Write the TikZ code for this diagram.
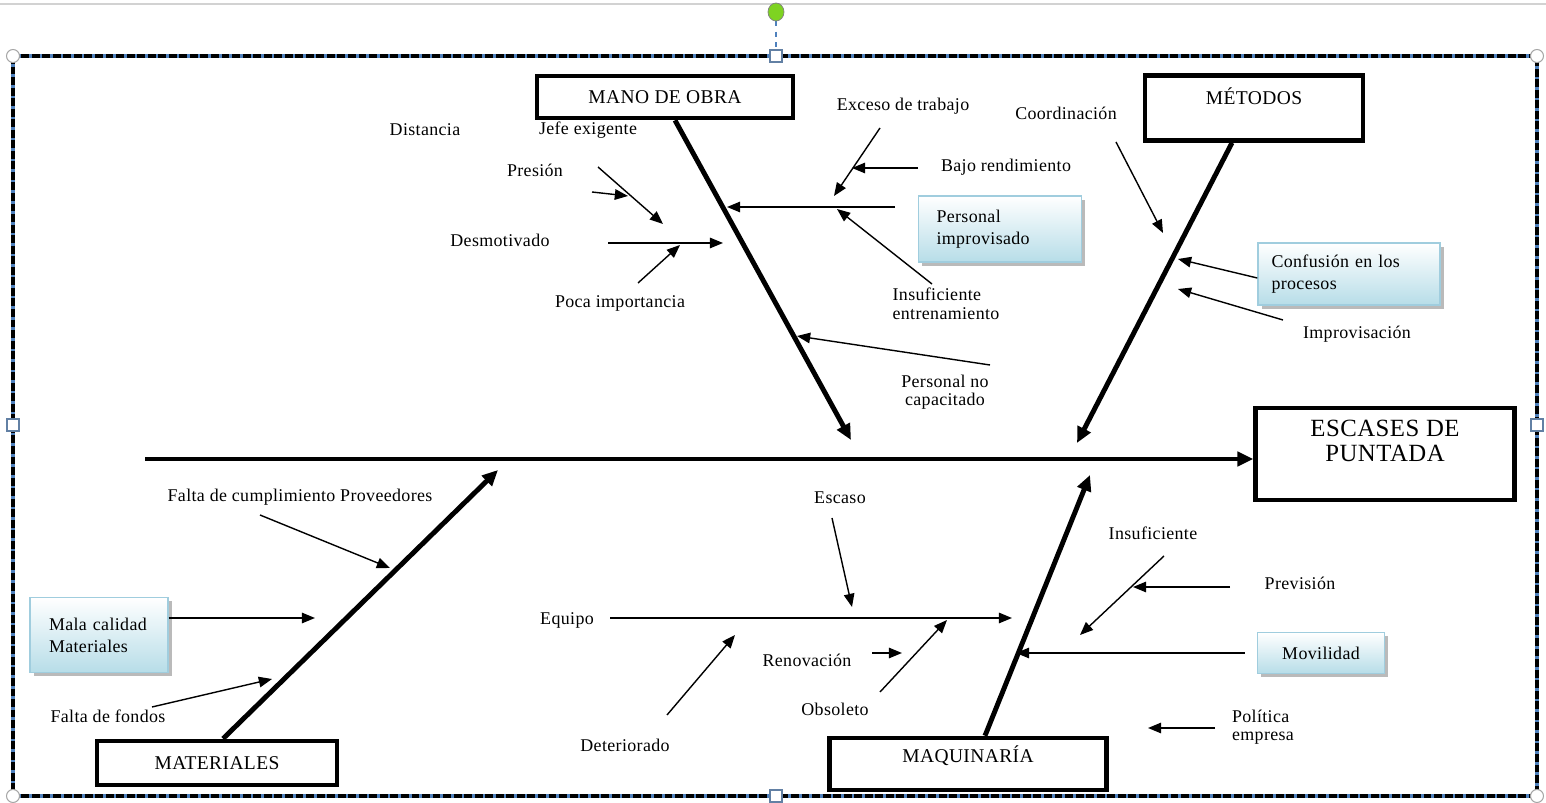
\documentclass[tikz,border=0pt]{standalone}
\usepackage{fontspec}
\setmainfont[LetterSpace=2]{Liberation Serif}
\usetikzlibrary{arrows.meta,shadows}

\definecolor{boxblue}{RGB}{183,221,232}
\definecolor{boxedge}{RGB}{160,205,222}
\definecolor{selblue}{RGB}{79,129,189}
\definecolor{handlegreen}{RGB}{126,211,33}

\newcommand\lblfont{\fontsize{10.2}{10.5}\selectfont}
\newcommand\catfont{\fontsize{11.1}{13}\selectfont}
\newcommand\efffont{\fontsize{14.1}{14.5}\selectfont}

\tikzset{
	lbl/.style={font=\lblfont, inner sep=0pt},
	catbox/.style={draw, line width=2.6pt, fill=white, font=\catfont, inner sep=0pt},
	bluebox/.style={draw=boxedge, line width=0.8pt, top color=white, bottom color=boxblue,
		drop shadow={shadow xshift=2pt, shadow yshift=-2pt, fill=black!45, opacity=0.6},
		font=\fontsize{10.2}{12.5}\selectfont, align=left, inner ysep=0pt},
	sub/.style={line width=0.8pt, -{Triangle[length=7.5pt,width=6pt]}},
	bone/.style={line width=2.8pt, -{Triangle[length=9pt,width=8pt]}},
	handle/.style={draw=gray!70, fill=white, line width=0.6pt},
}

\begin{document}
\begin{tikzpicture}[x=0.02cm, y=-0.02cm]
		\useasboundingbox (0,0) rectangle (1546,803);

		\draw[gray!35, line width=0.6pt] (0,4) -- (1546,4);
		\draw[selblue, line width=2.6pt] (13,56) rectangle (1537,796);
		\draw[line width=2pt, dash pattern=on 4.5pt off 1.5pt] (13,56) rectangle (1537,796);
		\draw[selblue, dashed, line width=0.8pt] (776,21) -- (776,49);
		\draw[gray, fill=handlegreen] (776,12) ellipse [x radius=0.16cm, y radius=0.18cm];
		\foreach \p in {(13,56),(1537,56),(13,796),(1537,796)}
			\draw[handle] \p circle [radius=0.13cm];
		\foreach \p in {(776,56),(13,425),(1537,425),(776,796)}
			\draw[handle, draw=selblue!60!gray] \p ++(-0.12cm,-0.12cm) rectangle ++(0.24cm,0.24cm);

		\node[catbox, minimum width=5.12cm, minimum height=0.84cm] (mano) at (665,97) {MANO DE OBRA};
		\node[catbox, minimum width=4.36cm, minimum height=1.3cm,
			label={[font=\catfont, anchor=north, inner sep=0pt, yshift=-0.28cm]north:MÉTODOS}] (met) at (1254,108) {};
		\node[catbox, minimum width=4.8cm, minimum height=0.88cm] (mat) at (217,763) {MATERIALES};
		\node[catbox, minimum width=5.54cm, minimum height=1.04cm,
			label={[font=\catfont, anchor=north, inner sep=0pt, yshift=-0.2cm]north:MAQUINARÍA}] (maq) at (968,764) {};
		\node[catbox, minimum width=5.18cm, minimum height=1.84cm,
			label={[font=\efffont, align=center, anchor=north, inner sep=0pt, yshift=-0.28cm]north:ESCASES DE\\PUNTADA}] (eff) at (1385,454) {};

		\coordinate (tail) at (145,459);
		\draw[bone, line width=2.4pt] (tail) -- (tail -| eff.west);
		\coordinate (manotip) at (851,440);
		\draw[bone] ([xshift=0.2cm]mano.south) -- (manotip);
		\coordinate (mettip) at (1077,443);
		\draw[bone] ([xshift=-0.44cm]met.south) -- (mettip);
		\coordinate (mattip) at (498,470);
		\draw[bone] ([xshift=0.12cm]mat.north) -- (mattip);
		\coordinate (maqtip) at (1090,475);
		\draw[bone] ([xshift=0.34cm]maq.north) -- (maqtip);

		\node[bluebox, text width=2.54cm, inner xsep=0.36cm, minimum height=1.32cm] (pimp) at (1000,229) {Personal\\improvisado};
		\node[bluebox, text width=3.1cm, inner xsep=0.27cm, minimum height=1.24cm] (conf) at (1349,274) {Confusión en los\\procesos};
		\node[bluebox, text width=2.0cm, inner xsep=0.38cm, minimum height=1.5cm] (malc) at (99,635) {Mala calidad\\Materiales};
		\node[bluebox, align=center, minimum width=2.54cm, minimum height=0.82cm] (movi) at (1321,653) {Movilidad};

		\node[lbl] (dist) at (425,130) {Distancia};
		\node[lbl] (jefe) at (588,130) {Jefe exigente};
		\node[lbl] (pres) at (535,170) {Presión};
		\node[lbl] (desm) at (500,240) {Desmotivado};
		\node[lbl] (poca) at (620,303) {Poca importancia};
		\node[lbl] (exce) at (903,106) {Exceso de trabajo};
		\node[lbl] (bajo) at (1006,167) {Bajo rendimiento};
		\node[lbl, align=left] (insE) at (946,304) {Insuficiente\\entrenamiento};
		\node[lbl, align=center] (pnc) at (945,392) {Personal no\\capacitado};
		\node[lbl] (coor) at (1066,113) {Coordinación};
		\node[lbl] (impr) at (1357,334) {Improvisación};
		\node[lbl] (fcp) at (300,497) {Falta de cumplimiento Proveedores};
		\node[lbl] (ffon) at (108,716) {Falta de fondos};
		\node[lbl] (esca) at (840,498) {Escaso};
		\node[lbl] (equi) at (567,620) {Equipo};
		\node[lbl] (dete) at (625,745) {Deteriorado};
		\node[lbl] (reno) at (807,660) {Renovación};
		\node[lbl] (obso) at (835,709) {Obsoleto};
		\node[lbl] (insu) at (1153,533) {Insuficiente};
		\node[lbl] (prev) at (1300,583) {Previsión};
		\node[lbl, align=left] (poli) at (1263,727) {Política\\empresa};

		\coordinate (jefeS) at (598,167); \coordinate (jefeE) at (663,224);
		\draw[sub] (jefeS) -- (jefeE);
		\coordinate (presS) at (592,192); \coordinate (presE) at (628,196);
		\draw[sub] (presS) -- (presE);
		\coordinate (desmS) at (608,243); \coordinate (desmE) at (723,243);
		\draw[sub] (desmS) -- (desmE);
		\coordinate (pocaS) at (638,283); \coordinate (pocaE) at (680,245);
		\draw[sub] (pocaS) -- (pocaE);
		\coordinate (pimpS) at (895,207); \coordinate (pimpE) at (727,207);
		\draw[sub] (pimpS) -- (pimpE);
		\coordinate (exceS) at (880,128); \coordinate (exceE) at (834,196);
		\draw[sub] (exceS) -- (exceE);
		\coordinate (bajoS) at (918,168); \coordinate (bajoE) at (852,168);
		\draw[sub] (bajoS) -- (bajoE);
		\coordinate (insES) at (932,284); \coordinate (insEE) at (837,209);
		\draw[sub] (insES) -- (insEE);
		\coordinate (pncS) at (990,365); \coordinate (pncE) at (797,336);
		\draw[sub] (pncS) -- (pncE);

		\coordinate (coorS) at (1116,142); \coordinate (coorE) at (1163,233);
		\draw[sub] (coorS) -- (coorE);
		\coordinate (confE) at (1178,259);
		\draw[sub] ([yshift=-0.08cm]conf.west) -- (confE);
		\coordinate (imprS) at (1283,320); \coordinate (imprE) at (1178,289);
		\draw[sub] (imprS) -- (imprE);

		\coordinate (fcpS) at (260,515); \coordinate (fcpE) at (390,568);
		\draw[sub] (fcpS) -- (fcpE);
		\coordinate (malcE) at (315,618);
		\draw[sub] (malc.east |- malcE) -- (malcE);
		\coordinate (ffonS) at (152,707); \coordinate (ffonE) at (272,679);
		\draw[sub] (ffonS) -- (ffonE);

		\coordinate (escaS) at (832,518); \coordinate (escaE) at (852,607);
		\draw[sub] (escaS) -- (escaE);
		\coordinate (equiS) at (610,618); \coordinate (equiE) at (1012,618);
		\draw[sub] (equiS) -- (equiE);
		\coordinate (deteS) at (667,715); \coordinate (deteE) at (735,635);
		\draw[sub] (deteS) -- (deteE);
		\coordinate (renoS) at (872,653); \coordinate (renoE) at (902,653);
		\draw[sub] (renoS) -- (renoE);
		\coordinate (obsoS) at (880,692); \coordinate (obsoE) at (947,620);
		\draw[sub] (obsoS) -- (obsoE);
		\coordinate (insuS) at (1164,556); \coordinate (insuE) at (1080,635);
		\draw[sub] (insuS) -- (insuE);
		\coordinate (prevS) at (1230,587); \coordinate (prevE) at (1133,587);
		\draw[sub] (prevS) -- (prevE);
		\coordinate (moviE) at (1016,653);
		\draw[sub] ([xshift=-0.24cm]movi.west) -- (moviE);
		\coordinate (poliS) at (1215,728); \coordinate (poliE) at (1148,728);
		\draw[sub] (poliS) -- (poliE);
	\end{tikzpicture}
\end{document}
